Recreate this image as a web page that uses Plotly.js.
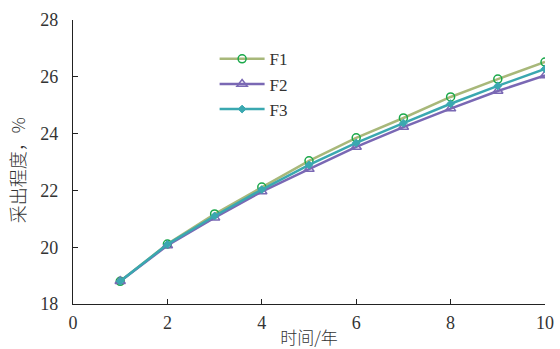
<!DOCTYPE html>
<html><head><meta charset="utf-8">
<script src="https://cdn.plot.ly/plotly-3.0.1.min.js"></script>
<style>body{margin:0;padding:0;background:#fff}#c{width:560px;height:349px}</style>
</head><body><div id="c"></div>
<script>
const years = [1,2,3,4,5,6,7,8,9,10];
const F1 = [18.8,20.11,21.17,22.12,23.04,23.85,24.55,25.29,25.92,26.52];
const F2 = [18.8,20.06,21.04,21.96,22.75,23.53,24.23,24.88,25.5,26.05];
const F3 = [18.8,20.1,21.1,22.03,22.9,23.67,24.37,25.05,25.68,26.28];
const names = ['F1','F2','F3'];
const font = {family:'Liberation Serif', size:18, color:'#333'};
const cjkFam = 'Noto Sans CJK SC, sans-serif';
const traces = [
 {x:years,y:F1,name:names[0],mode:'lines+markers',line:{color:'#a8b87a',width:2.5},
  marker:{symbol:'circle-open',size:8,color:'#1aa84a',line:{width:1.5,color:'#1aa84a'}}},
 {x:years,y:F2,name:names[1],mode:'lines+markers',line:{color:'#7a68b4',width:2.5},
  marker:{symbol:'triangle-up-open',size:9,color:'#7a68b4',line:{width:1.5,color:'#7a68b4'}}},
 {x:years,y:F3,name:names[2],mode:'lines+markers',line:{color:'#3aa8b0',width:2.5},
  marker:{symbol:'diamond',size:6,color:'#3aa8b0',line:{width:1,color:'#3aa8b0'}}}
];
const layout = {
 width:560,height:349,margin:{l:73,r:15,t:20,b:45},
 paper_bgcolor:'#fff',plot_bgcolor:'#fff',font:font,showlegend:true,
 legend:{x:0.3,y:0.925,xanchor:'left',yanchor:'top',bgcolor:'rgba(0,0,0,0)',font:{family:'Liberation Serif',size:17,color:'#333'},tracegroupgap:0,itemwidth:45},
 xaxis:{range:[0,10],tickvals:[0,2,4,6,8,10],showgrid:false,zeroline:false,showline:true,linecolor:'#222',linewidth:1.2,
  ticks:'inside',ticklen:5,tickcolor:'#222',tickfont:font,ticklabelstandoff:2,
  title:{text:'时间/年',font:{family:cjkFam,size:17,color:'#333',weight:300},standoff:2}},
 yaxis:{range:[18,28],tickvals:[18,20,22,24,26,28],showgrid:false,zeroline:false,showline:true,linecolor:'#222',linewidth:1.2,
  ticks:'inside',ticklen:5,tickcolor:'#222',tickfont:font,ticklabelstandoff:10},
 annotations:[{text:'采出程度，%',xref:'paper',yref:'paper',x:-0.119,y:0.47,xanchor:'center',yanchor:'middle',
  textangle:-90,showarrow:false,font:{family:cjkFam,size:18,color:'#333',weight:300}}]
};
Plotly.newPlot('c',traces,layout,{displayModeBar:false,staticPlot:true});
</script></body></html>
